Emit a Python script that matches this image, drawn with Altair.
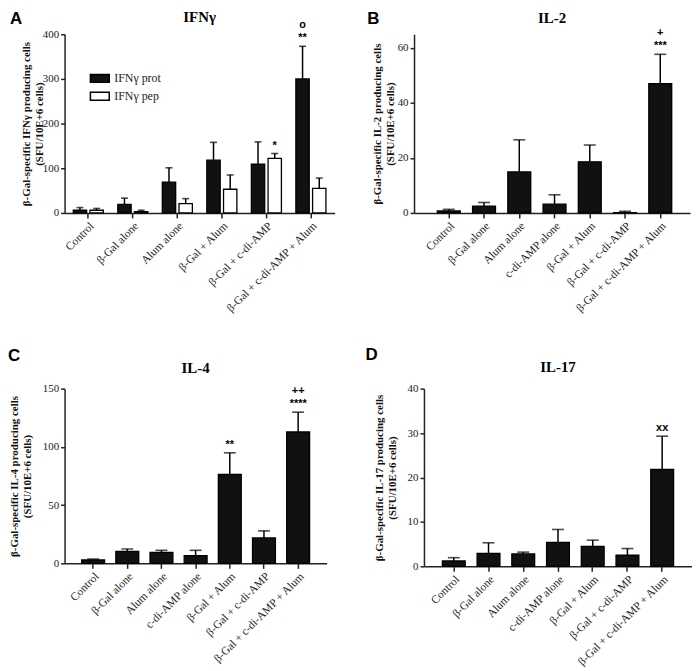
import altair as alt
import pandas as pd

categories = ["Control", "β-Gal alone", "Alum alone", "c-di-AMP alone",
              "β-Gal + Alum", "β-Gal + c-di-AMP", "β-Gal + c-di-AMP + Alum"]

ifng_series = ["IFNγ prot", "IFNγ pep"]
ifng_prot = [6, 19, 69, 0, 118, 109, 300]
ifng_prot_err = [6, 14, 32, 0, 40, 50, 73]
ifng_pep = [6, 3, 21, 0, 53, 122, 55]
ifng_pep_err = [4, 3, 11, 0, 32, 11, 23]

il2 = [0.7, 2.5, 14.9, 3.2, 18.6, 0.1, 47.0]
il2_err = [0.6, 1.3, 11.7, 3.4, 6.1, 0.5, 10.7]

il4 = [2.9, 10.3, 9.5, 6.6, 76.4, 21.8, 112.8]
il4_err = [0.8, 2.1, 1.7, 4.6, 18.5, 6.1, 17.0]

il17 = [1.2, 2.9, 2.8, 5.4, 4.5, 2.5, 21.8]
il17_err = [0.75, 2.4, 0.4, 2.9, 1.4, 1.5, 7.5]

# annotations: (category, series, text, line)
ann_ifng = [("β-Gal + c-di-AMP", "IFNγ pep", "*", 0),
            ("β-Gal + c-di-AMP + Alum", "IFNγ prot", "**", 0),
            ("β-Gal + c-di-AMP + Alum", "IFNγ prot", "o", 1)]
ann_il2 = [("β-Gal + c-di-AMP + Alum", "-", "***", 0),
           ("β-Gal + c-di-AMP + Alum", "-", "+", 1)]
ann_il4 = [("β-Gal + Alum", "-", "**", 0),
           ("β-Gal + c-di-AMP + Alum", "-", "****", 0),
           ("β-Gal + c-di-AMP + Alum", "-", "++", 1)]
ann_il17 = [("β-Gal + c-di-AMP + Alum", "-", "xx", 0)]

SERIF = "Liberation Serif"
SANS = "Liberation Sans"
INK = "#111111"


def make_df(series_vals):
    rows = []
    for sname, vals, errs in series_vals:
        for c, v, e in zip(categories, vals, errs):
            rows.append({"cat": c, "series": sname, "val": v, "err": e, "top": v + e})
    return pd.DataFrame(rows)


def make_ann(df, ann):
    rows = []
    for c, s, t, line in ann:
        if s == "-":
            r = df[df.cat == c].iloc[0]
        else:
            r = df[(df.cat == c) & (df.series == s)].iloc[0]
        rows.append({"cat": c, "series": r.series, "top": r.top, "label": t, "line": line})
    return pd.DataFrame(rows)


def panel(df, ann, letter, title, ytitle, domain, ticks, width, height,
          pin, pout, palign, grouped, cap, letter_xy, title_dy, ytitle_x):
    xs = alt.X("cat:N", sort=categories,
               scale=alt.Scale(paddingInner=pin, paddingOuter=pout, align=palign),
               axis=alt.Axis(title=None, labelAngle=-45))
    ys = alt.Y("val:Q", scale=alt.Scale(domain=domain, nice=False, zero=True),
               axis=alt.Axis(values=ticks, title=ytitle, titleX=ytitle_x,
                             titleY=height / 2, titleAngle=270,
                             titleBaseline="top", titleAlign="center",
                             titleLineHeight=13))
    enc = {"x": xs}
    if grouped:
        enc["xOffset"] = alt.XOffset("series:N", sort=ifng_series,
                                     scale=alt.Scale(paddingInner=0.2, paddingOuter=0))
    bars = alt.Chart(df).transform_filter(alt.datum.val > 0).mark_bar(
        stroke="black", strokeWidth=1.3).encode(
        y=ys,
        fill=(alt.Fill("series:N", sort=ifng_series,
                       scale=alt.Scale(domain=ifng_series, range=[INK, "white"]),
                       legend=alt.Legend(orient="none", legendX=25, legendY=34,
                                         title=None, padding=0,
                                         symbolType="M-1,-0.42H1V0.42H-1Z",
                                         symbolSize=361, symbolStrokeColor="black",
                                         symbolStrokeWidth=1.5, labelFont=SERIF,
                                         labelFontSize=12, labelColor="#222",
                                         labelOffset=4, rowPadding=0))
              if grouped else alt.value(INK)),
        **enc)
    rules = alt.Chart(df).transform_filter(alt.datum.err > 0).mark_rule(
        color="black", strokeWidth=1.5).encode(y="val:Q", y2="top:Q", **enc)
    caps = alt.Chart(df).transform_filter(alt.datum.err > 0).mark_tick(
        color="black", thickness=1.6, size=cap, orient="horizontal").encode(
        y="top:Q", **enc)
    layers = [bars, rules, caps]
    if ann is not None and len(ann):
        adf = make_ann(df, ann)
        for line, dy in [(0, -8), (1, -21)]:
            sub = adf[adf.line == line]
            if len(sub):
                layers.append(alt.Chart(sub).mark_text(
                    font=SANS, fontWeight="bold", fontSize=11, color="black",
                    baseline="middle", dy=dy).encode(y="top:Q", text="label:N", **enc))
    lt = pd.DataFrame({"t": [letter]})
    layers.append(alt.Chart(lt).mark_text(
        font=SANS, fontWeight="bold", fontSize=17, align="left", baseline="top",
        color="black").encode(x=alt.value(letter_xy[0]), y=alt.value(letter_xy[1]),
                              text="t:N"))
    tt = pd.DataFrame({"t": [title]})
    layers.append(alt.Chart(tt).mark_text(
        font=SERIF, fontWeight="bold", fontSize=15, align="center", baseline="middle",
        color="black").encode(x=alt.value(width / 2), y=alt.value(title_dy),
                              text="t:N"))
    return alt.layer(*layers).properties(width=width, height=height)


dfA = make_df([("IFNγ prot", ifng_prot, ifng_prot_err), ("IFNγ pep", ifng_pep, ifng_pep_err)])
dfB = make_df([("IL-2", il2, il2_err)])
dfC = make_df([("IL-4", il4, il4_err)])
dfD = make_df([("IL-17", il17, il17_err)])

A = panel(dfA, ann_ifng, "A", "IFNγ",
          ["β-Gal-specific IFNγ producing cells", "(SFU/10E+6 cells)"],
          [0, 400], [0, 100, 200, 300, 400], 272, 180,
          0.325, 0.195, 0.5, True, 7, (-55, -23), -17, -44)
B = panel(dfB, ann_il2, "B", "IL-2",
          ["β-Gal-specific IL-2 producing cells", "(SFU/10E+6 cells)"],
          [0, 65], [0, 20, 40, 60], 278, 180,
          0.35, 0.59, 0.56, False, 12, (-47, -23), -16, -43)
C = panel(dfC, ann_il4, "C", "IL-4",
          ["β-Gal-specific IL-4 producing cells", "(SFU/10E+6 cells)"],
          [0, 150], [0, 50, 100, 150], 264, 176,
          0.33, 0.5, 0.5, False, 12, (-57, -41), -21, -56)
D = panel(dfD, ann_il17, "D", "IL-17",
          ["β-Gal-specific IL-17 producing cells", "(SFU/10E+6 cells)"],
          [0, 40], [0, 10, 20, 30, 40], 270, 179,
          0.343, 0.53, 0.5, False, 12, (-59, -42), -22, -51)

top = alt.hconcat(A, B, spacing=33).resolve_scale(x="independent", y="independent", fill="independent").resolve_legend(fill="independent")
bot = alt.hconcat(C, D, spacing=39).resolve_scale(x="independent", y="independent", fill="independent").resolve_legend(fill="independent")

chart = alt.vconcat(top, bot, spacing=31).resolve_scale(
    x="independent", y="independent", fill="independent").resolve_legend(
    fill="independent").properties(padding=0).configure_view(stroke=None).configure_axis(
    grid=False, domainColor="#222", domainWidth=1.5, tickColor="#222", tickWidth=1.5,
    tickSize=4, labelFont=SERIF, labelFontSize=11, labelColor="#222", labelPadding=2,
    titleFont=SERIF, titleFontSize=11, titleFontWeight="bold", titleColor="#111"
).configure_axisX(tickSize=5, labelFontSize=11.5)

chart.save("out.html", embed_options={"renderer": "svg", "actions": False})
